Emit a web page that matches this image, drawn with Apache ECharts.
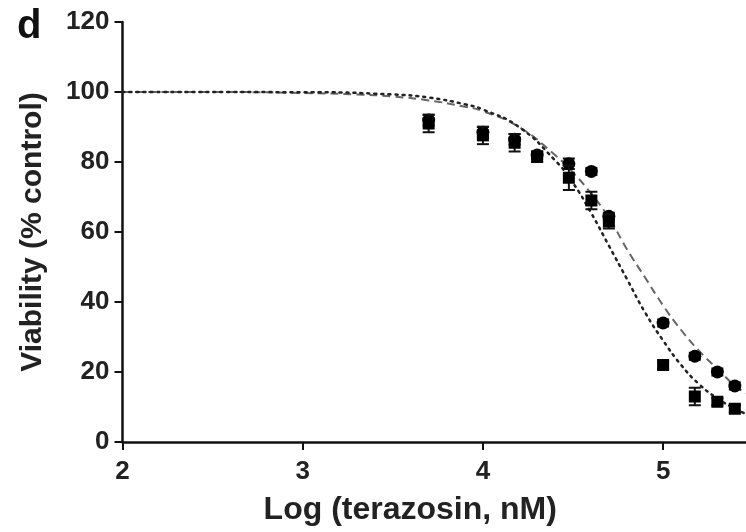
<!DOCTYPE html>
<html>
<head>
<meta charset="utf-8">
<script src="https://cdn.jsdelivr.net/npm/echarts@6/dist/echarts.min.js"></script>
<style>html,body{margin:0;padding:0;background:#fff;}#c{width:746px;height:532px;}</style>
</head>
<body>
<div id="c"></div>
<script>
// Data
var logConc = [3.699, 4.0, 4.176, 4.301, 4.477, 4.602, 4.699, 5.0, 5.176, 5.301, 5.398];
var circleMean = [92, 88.5, 86.5, 82, 79.5, 77.3, 64.5, 34, 24.5, 20, 16];
var circleErr  = [1.5, 1.5, 1.5, 1, 1.5, 1, 1, 1, 1, 1, 1];
var squareMean = [91, 87.6, 85.5, 81.5, 75.5, 69, 63, 22, 13, 11.5, 9.5];
var squareErr  = [2.5, 2.5, 2.5, 1.5, 3.5, 2.5, 2, 1, 2.5, 1, 1];

var dashedX = [2, 2.5, 3, 3.3, 3.5, 3.7, 3.9, 4.0, 4.2, 4.4, 4.5, 4.6, 4.7, 4.8, 4.9, 5.0, 5.1, 5.2, 5.3, 5.4, 5.46];
var dashedY = [100, 100, 99.7, 99.3, 98.7, 97.6, 95.8, 94.5, 90, 82, 77, 71, 64, 55, 47, 39, 32, 26, 21, 16, 14];
var dottedX = [2, 3, 3.5, 3.7, 3.9, 4.0, 4.2, 4.4, 4.5, 4.6, 4.7, 4.8, 4.9, 5.0, 5.1, 5.2, 5.3, 5.4, 5.46];
var dottedY = [100, 99.95, 99.3, 98.4, 96.5, 95, 90, 80.5, 74, 65.5, 56, 46.5, 37, 29, 22, 16.5, 12.5, 9.5, 8];

var xTicks = [2, 3, 4, 5];
var yTicks = [0, 20, 40, 60, 80, 100, 120];

function zip(a, b) { return a.map(function (v, i) { return [v, b[i]]; }); }
function errData(m, e) { return logConc.map(function (x, i) { return [x, m[i] - e[i], m[i] + e[i]]; }); }

function errRender(params, api) {
  var x = api.value(0);
  var lo = api.coord([x, api.value(1)]);
  var hi = api.coord([x, api.value(2)]);
  var hw = 6;
  var st = { stroke: '#111', lineWidth: 2 };
  return {
    type: 'group',
    children: [
      { type: 'line', shape: { x1: lo[0], y1: lo[1], x2: hi[0], y2: hi[1] }, style: st },
      { type: 'line', shape: { x1: lo[0] - hw, y1: lo[1], x2: lo[0] + hw, y2: lo[1] }, style: st },
      { type: 'line', shape: { x1: hi[0] - hw, y1: hi[1], x2: hi[0] + hw, y2: hi[1] }, style: st }
    ]
  };
}

var font = 'Liberation Sans, Arial, Helvetica, sans-serif';
var chart = echarts.init(document.getElementById('c'), null, { renderer: 'canvas' });
chart.setOption({
  animation: false,
  backgroundColor: '#fff',
  graphic: [{
    type: 'text', left: 17, top: 7,
    style: { text: 'd', font: 'bold 40px ' + font, fill: '#111' }
  }],
  grid: { left: 122.5, right: 0, top: 22, bottom: 90, containLabel: false },
  xAxis: {
    type: 'value', min: 2, max: 5.46, interval: 1,
    name: 'Log (terazosin, nM)', nameLocation: 'middle', nameGap: 52,
    nameTextStyle: { fontFamily: font, fontWeight: 'bold', fontSize: 32, color: '#222', padding: [0, 48, 0, 0] },
    axisLine: { lineStyle: { color: '#111', width: 2.5 } },
    axisTick: { show: true, length: 8, lineStyle: { color: '#111', width: 2 } },
    axisLabel: {
      fontFamily: font, fontWeight: 'bold', fontSize: 26, color: '#222', margin: 17,
      showMaxLabel: false,
      formatter: function (v) { return xTicks.indexOf(v) >= 0 ? String(v) : ''; }
    },
    splitLine: { show: false }
  },
  yAxis: {
    type: 'value', min: 0, max: 120, interval: 20,
    name: 'Viability (% control)', nameLocation: 'middle', nameGap: 75,
    nameTextStyle: { fontFamily: font, fontWeight: 'bold', fontSize: 30, color: '#222' },
    axisLine: { lineStyle: { color: '#111', width: 2.5 } },
    axisTick: { show: true, length: 8, lineStyle: { color: '#111', width: 2 } },
    axisLabel: {
      fontFamily: font, fontWeight: 'bold', fontSize: 26, color: '#222', margin: 13,
      formatter: function (v) { return yTicks.indexOf(v) >= 0 ? String(v) : ''; }
    },
    splitLine: { show: false }
  },
  series: [
    {
      type: 'line', data: zip(dashedX, dashedY), smooth: true, showSymbol: false, symbol: 'none',
      lineStyle: { color: '#666', width: 2, type: [8, 5] }, z: 2
    },
    {
      type: 'line', data: zip(dottedX, dottedY), smooth: true, showSymbol: false, symbol: 'none',
      lineStyle: { color: '#222', width: 2.5, type: [2, 5], cap: 'round' }, z: 2
    },
    {
      type: 'custom', data: errData(circleMean, circleErr), renderItem: errRender, z: 3,
      encode: { x: 0, y: [1, 2] }
    },
    {
      type: 'scatter', data: zip(logConc, circleMean), symbol: 'circle', symbolSize: 13,
      itemStyle: { color: '#000', opacity: 1 }, z: 4
    },
    {
      type: 'custom', data: errData(squareMean, squareErr), renderItem: errRender, z: 5,
      encode: { x: 0, y: [1, 2] }
    },
    {
      type: 'scatter', data: zip(logConc, squareMean), symbol: 'rect', symbolSize: 12,
      itemStyle: { color: '#000', opacity: 1 }, z: 6
    }
  ]
});
</script>
</body>
</html>
